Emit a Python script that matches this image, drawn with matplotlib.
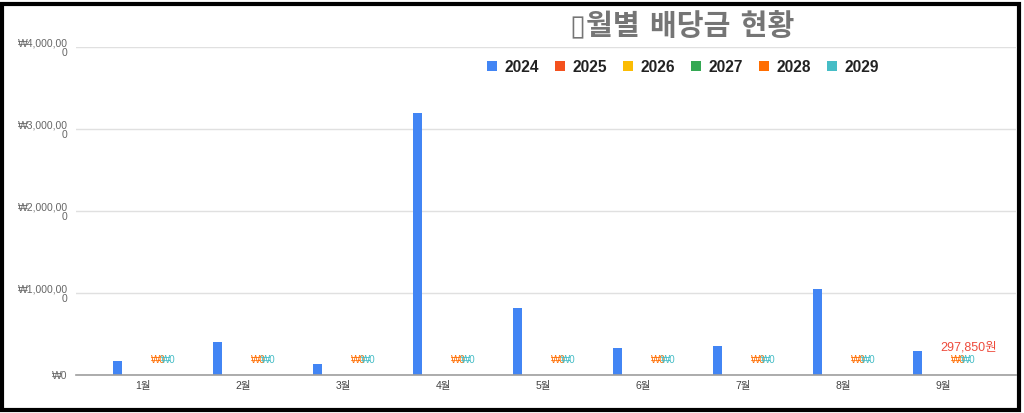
import matplotlib
matplotlib.use("Agg")
import matplotlib.pyplot as plt
from matplotlib.patches import Rectangle, Patch
import numpy as np

plt.rcParams['font.family'] = ['Liberation Sans', 'Noto Sans CJK KR', 'DejaVu Sans']

months = ["1월", "2월", "3월", "4월", "5월", "6월", "7월", "8월", "9월"]
years = ["2024", "2025", "2026", "2027", "2028", "2029"]
colors = ["#4285f4", "#f4511e", "#fbbc04", "#34a853", "#ff6d01", "#46bdc6"]
v2024 = [170000, 400000, 134000, 3195000, 817000, 330000, 354000, 1049000, 297850]
v_other = [0, 0, 0, 0, 0, 0, 0, 0, 0]
series = [v2024, v_other, v_other, v_other, v_other, v_other]
labeled = ["2028", "2029"]
yticks = [0, 1000000, 2000000, 3000000, 4000000]
title = "▯월별 배당금 현황"
note = "297,850원"

W, H = 1024, 413
fig = plt.figure(figsize=(W / 100, H / 100), dpi=100)
ax = fig.add_axes([76 / W, (H - 375) / H, (1016 - 76) / W, (375 - 47) / H])

x = np.arange(len(months))
slot = 0.102
bw = 0.09
for i, (yr, vals, c) in enumerate(zip(years, series, colors)):
    off = (i - 2.5) * slot
    ax.bar(x + off, vals, width=bw, color=c, zorder=3)
    if yr in labeled:
        for xi, v in zip(x, vals):
            ax.annotate(f"₩{v:,.0f}", xy=(xi + off, v), xytext=(0, 11),
                        textcoords="offset points", ha="center", va="center",
                        fontsize=7, color=c, zorder=5)

ax.annotate(note, xy=(x[-1] + 2.5 * slot, 0), xytext=(0, 19.5),
            textcoords="offset points", ha="center", va="center",
            fontsize=9, color="#ee4b3c", zorder=6)

ax.set_xlim(-0.67, 8.73)
ax.set_ylim(0, 4000000)
ax.set_xticks(x)
ax.set_xticklabels(months, fontsize=7.5, color="#444444")
ax.set_yticks(yticks)

def fmt(v):
    s = f"₩{v:,.0f}"
    if len(s) > 9:
        s = s[:9] + "\n" + s[9:]
    return s

ax.set_yticklabels([fmt(v) for v in yticks], fontsize=7.5, color="#666666",
                   linespacing=1.0)
for t in ax.get_yticklabels():
    t.set_multialignment("right")
ax.tick_params(axis="both", length=0)
ax.tick_params(axis="y", pad=6)
ax.tick_params(axis="x", pad=4)
ax.grid(axis="y", color="#e0e0e0", linewidth=1, zorder=0)
for s in ["top", "right", "left"]:
    ax.spines[s].set_visible(False)
ax.spines["bottom"].set_color("#9e9e9e")
ax.spines["bottom"].set_linewidth(1.2)
ax.spines["bottom"].set_zorder(4)

fig.text(682 / W, (H - 27) / H, title, ha="center", va="center",
         fontsize=21, fontweight="bold", color="#757575",
         family=["DejaVu Sans", "Noto Sans CJK KR"])

handles = [Patch(facecolor=c, edgecolor="none") for c in colors]
leg = fig.legend(handles, years, loc="center", bbox_to_anchor=(683 / W, (H - 67) / H),
                 ncol=6, frameon=False, fontsize=11.2, handlelength=0.65, handleheight=0.65,
                 handletextpad=0.5, columnspacing=1.0)
for t in leg.get_texts():
    t.set_fontweight("bold")
    t.set_color("#222222")

fig.add_artist(Rectangle((2 / W, 3 / H), (1019 - 2) / W, (409 - 3) / H,
                         transform=fig.transFigure, fill=False,
                         edgecolor="black", linewidth=3))

fig.savefig("out.png", dpi=100)
